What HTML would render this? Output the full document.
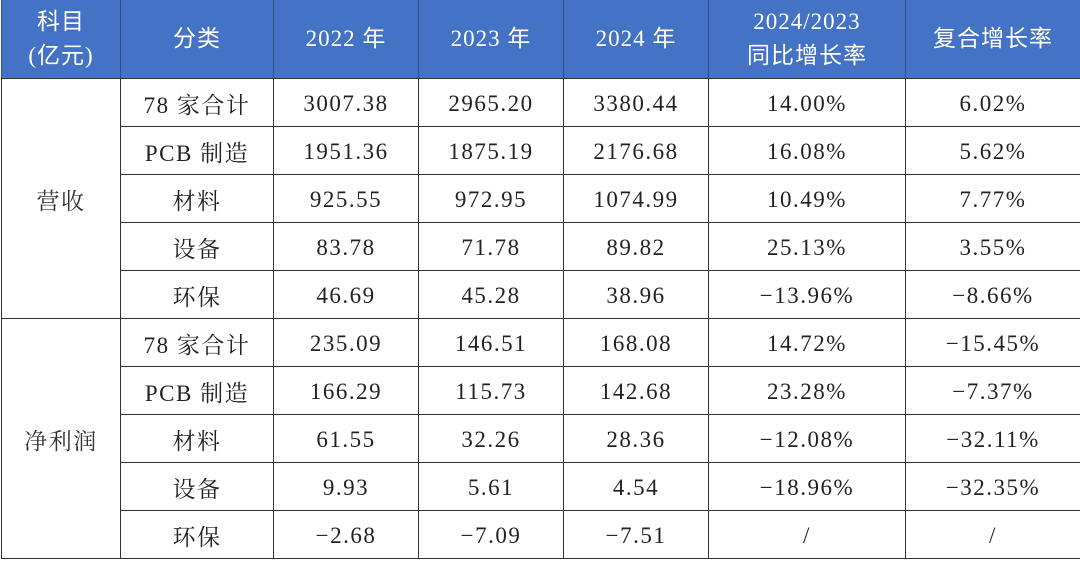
<!DOCTYPE html>
<html><head><meta charset="utf-8"><style>
html,body{margin:0;padding:0;background:#fff;width:1080px;height:561px;overflow:hidden}
table{position:absolute;left:1px;top:0;border-collapse:collapse;table-layout:fixed;width:1079px}
tr{height:48px}
tr.h{height:78px}
td,th{border:1.5px solid #333;text-align:center;padding:3px 0 0 0;color:#222;font-family:"Liberation Serif","Noto Serif CJK SC",serif;font-size:23px;letter-spacing:1.5px}
th{background:#4472c4;color:#fff;font-weight:normal;font-family:"Liberation Serif","Noto Sans CJK SC",sans-serif;line-height:34px;border-color:#333 #2a4f8f;border-top:none;letter-spacing:1px;padding:0}
td.g{font-family:"Noto Serif CJK SC",serif;color:#333}
</style></head><body>
<table>
<colgroup><col style="width:119px"><col style="width:153px"><col style="width:145px"><col style="width:145px"><col style="width:145px"><col style="width:197px"><col style="width:175px"></colgroup>
<tr class="h"><th>科目<br>(亿元)</th><th>分类</th><th>2022 年</th><th>2023 年</th><th>2024 年</th><th>2024/2023<br>同比增长率</th><th>复合增长率</th></tr>
<tr><td rowspan="5" class="g">营收</td><td>78 家合计</td><td>3007.38</td><td>2965.20</td><td>3380.44</td><td>14.00%</td><td>6.02%</td></tr>
<tr><td>PCB 制造</td><td>1951.36</td><td>1875.19</td><td>2176.68</td><td>16.08%</td><td>5.62%</td></tr>
<tr><td>材料</td><td>925.55</td><td>972.95</td><td>1074.99</td><td>10.49%</td><td>7.77%</td></tr>
<tr><td>设备</td><td>83.78</td><td>71.78</td><td>89.82</td><td>25.13%</td><td>3.55%</td></tr>
<tr><td>环保</td><td>46.69</td><td>45.28</td><td>38.96</td><td>−13.96%</td><td>−8.66%</td></tr>
<tr><td rowspan="5" class="g">净利润</td><td>78 家合计</td><td>235.09</td><td>146.51</td><td>168.08</td><td>14.72%</td><td>−15.45%</td></tr>
<tr><td>PCB 制造</td><td>166.29</td><td>115.73</td><td>142.68</td><td>23.28%</td><td>−7.37%</td></tr>
<tr><td>材料</td><td>61.55</td><td>32.26</td><td>28.36</td><td>−12.08%</td><td>−32.11%</td></tr>
<tr><td>设备</td><td>9.93</td><td>5.61</td><td>4.54</td><td>−18.96%</td><td>−32.35%</td></tr>
<tr><td>环保</td><td>−2.68</td><td>−7.09</td><td>−7.51</td><td>/</td><td>/</td></tr>
</table>
</body></html>
